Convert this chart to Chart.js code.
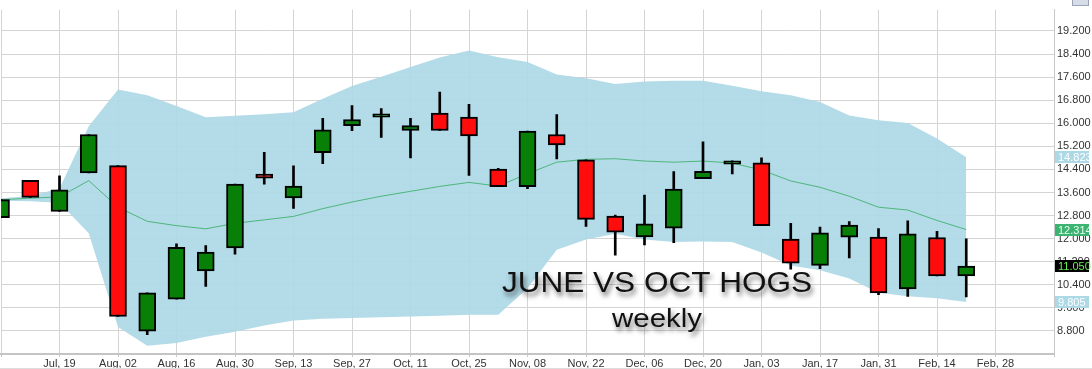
<!DOCTYPE html>
<html>
<head>
<meta charset="utf-8">
<script src="https://cdn.jsdelivr.net/npm/chart.js@4.4.1/dist/chart.umd.min.js"></script>
<style>
  html, body { margin: 0; padding: 0; background: #ffffff; }
  #wrap { position: relative; width: 1092px; height: 369px; }
  canvas { display: block; }
</style>
</head>
<body>
<div id="wrap"><canvas id="c" width="1092" height="369"></canvas></div>
<script>
// ---- Data (weekly candles, June vs Oct hogs spread) ----
const weeks = ['Jul 05','Jul 12','Jul 19','Jul 26','Aug 02','Aug 09','Aug 16','Aug 23','Aug 30',
  'Sep 06','Sep 13','Sep 20','Sep 27','Oct 04','Oct 11','Oct 18','Oct 25','Nov 01','Nov 08',
  'Nov 15','Nov 22','Nov 29','Dec 06','Dec 13','Dec 20','Dec 27','Jan 03','Jan 10','Jan 17',
  'Jan 24','Jan 31','Feb 07','Feb 14','Feb 21'];

const open  = [12.73,14.02,12.94,14.28,14.53,8.79,9.90,10.88,11.68,14.24,13.41,14.98,15.92,16.21,15.75,16.35,16.21,14.41,13.80,15.61,14.73,12.78,12.06,12.36,14.08,14.58,14.63,11.98,11.07,12.05,12.05,10.26,12.04,10.71];
const high  = [13.35,14.02,14.18,15.61,14.53,10.12,11.82,11.76,13.89,14.99,14.52,16.17,16.61,16.51,16.17,17.08,16.66,14.44,15.73,16.30,14.73,12.82,13.51,14.32,15.36,14.70,14.80,12.53,12.40,12.59,12.35,12.62,12.25,11.99];
const low   = [12.73,13.43,12.94,14.28,9.30,8.67,9.90,10.34,11.46,13.89,13.05,14.60,15.74,15.51,14.80,15.75,14.19,13.80,13.73,14.76,12.42,11.43,11.78,11.86,14.08,14.24,12.45,10.94,10.96,11.33,10.06,10.00,10.71,9.98];
const close = [13.35,13.43,13.69,15.61,9.30,10.12,11.70,11.53,13.89,14.10,13.82,15.77,16.13,16.33,15.92,15.75,15.56,13.80,15.73,15.25,12.67,12.22,12.51,13.72,14.33,14.70,12.45,11.15,12.20,12.47,10.12,12.17,10.71,11.05];

const bandUpper = [13.40,13.48,13.74,15.90,17.17,16.97,16.60,16.21,16.26,16.31,16.38,16.85,17.29,17.61,17.95,18.28,18.52,18.29,18.12,17.69,17.56,17.36,17.45,17.47,17.47,17.30,17.11,16.97,16.74,16.27,16.10,16.01,15.47,14.823];
const bandMiddle = [13.35,13.40,13.45,14.01,13.09,12.60,12.45,12.34,12.53,12.65,12.77,13.04,13.27,13.47,13.64,13.81,13.95,13.82,14.25,14.65,14.75,14.77,14.69,14.65,14.69,14.62,14.38,14.00,13.78,13.47,13.09,12.99,12.63,12.314];
const bandLower = [13.31,13.30,13.24,12.19,8.94,8.29,8.38,8.60,8.77,8.99,9.16,9.22,9.25,9.27,9.30,9.33,9.36,9.36,10.28,11.61,11.97,12.17,11.97,11.88,11.90,11.88,11.52,11.07,10.90,10.62,10.12,10.00,9.93,9.805];

const xTickWeeks  = [0,2,4,6,8,10,12,14,16,18,20,22,24,26,28,30,32,34,36];
const xTickLabels = ['','Jul, 19','Aug, 02','Aug, 16','Aug, 30','Sep, 13','Sep, 27','Oct, 11','Oct, 25',
  'Nov, 08','Nov, 22','Dec, 06','Dec, 20','Jan, 03','Jan, 17','Jan, 31','Feb, 14','Feb, 28',''];
const yTicks = [8.8,9.6,10.4,11.2,12.0,12.8,13.6,14.4,15.2,16.0,16.8,17.6,18.4,19.2];

const titleLines = ['JUNE VS OCT HOGS', 'weekly'];

// ---- Chart ----
const AXIS_FONT = '"Liberation Sans Narrow", "Arial Narrow", "Liberation Sans", Arial, sans-serif';
const last = weeks.length - 1;

const overlayPlugin = {
  id: 'overlay',
  afterDraw(chart) {
    const { ctx, chartArea, scales } = chart;
    const y = scales.y;
    const badges = [
      { value: bandUpper[last],  bg: '#add8e6', fg: '#ffffff' },
      { value: bandMiddle[last], bg: '#3cb371', fg: '#e8fff0' },
      { value: close[last],      bg: '#000000', fg: '#66ee55' },
      { value: bandLower[last],  bg: '#add8e6', fg: '#ffffff' }
    ];
    const bx = chartArea.right + 1;
    ctx.save();
    ctx.font = '11px ' + AXIS_FONT;
    ctx.textBaseline = 'middle';
    ctx.textAlign = 'left';
    badges.forEach(b => {
      const py = Math.round(y.getPixelForValue(b.value));
      ctx.fillStyle = b.bg;
      ctx.fillRect(bx, py - 6, 34, 12);
      ctx.fillStyle = b.fg;
      ctx.fillText(b.value.toFixed(3), bx + 3, py + 0.5);
    });
    ctx.restore();

    ctx.save();
    ctx.fillStyle = '#d6dce8';
    ctx.fillRect(1072, -6, 17, 12);
    ctx.strokeStyle = '#9aa4b8';
    ctx.strokeRect(1072.5, -5.5, 16, 11);
    ctx.restore();

    ctx.save();
    ctx.strokeStyle = '#dddddd';
    ctx.beginPath(); ctx.moveTo(0, 368.5); ctx.lineTo(1092, 368.5); ctx.stroke();
    ctx.restore();

    const drawScaled = (text, size, cx, baseY, targetW) => {
      ctx.save();
      ctx.font = size + 'px "Liberation Sans", Arial, sans-serif';
      const w = ctx.measureText(text).width;
      const sx = targetW / w;
      ctx.translate(cx, baseY);
      ctx.scale(sx, 1);
      ctx.textAlign = 'center';
      ctx.textBaseline = 'alphabetic';
      ctx.shadowColor = 'rgba(0,0,0,0.55)';
      ctx.shadowBlur = 5;
      ctx.shadowOffsetX = 2;
      ctx.shadowOffsetY = 4;
      ctx.fillStyle = '#111111';
      ctx.fillText(text, 0, 0);
      ctx.restore();
    };
    drawScaled(titleLines[0], 29, 657, 291.5, 310);
    drawScaled(titleLines[1], 25, 657, 326.5, 90);
  }
};

new Chart(document.getElementById('c'), {
  type: 'bar',
  data: {
    datasets: [
      {
        type: 'line', label: 'Upper band',
        data: bandUpper.map((v, i) => ({ x: i, y: v })),
        borderWidth: 0, pointRadius: 0, tension: 0,
        backgroundColor: 'rgba(173,216,230,0.93)', borderColor: 'rgba(0,0,0,0)',
        fill: '+1', order: 5
      },
      {
        type: 'line', label: 'Lower band',
        data: bandLower.map((v, i) => ({ x: i, y: v })),
        borderWidth: 0, pointRadius: 0, tension: 0,
        borderColor: 'rgba(0,0,0,0)', fill: false, order: 4
      },
      {
        type: 'line', label: 'Middle',
        data: bandMiddle.map((v, i) => ({ x: i, y: v })),
        borderWidth: 1, pointRadius: 0, tension: 0,
        borderColor: 'rgba(60,175,105,0.85)', fill: false, order: 3
      },
      {
        type: 'bar', label: 'Range',
        data: high.map((h, i) => ({ x: i, y: [low[i], h] })),
        backgroundColor: '#000000', barThickness: 2, grouped: false, order: 2
      },
      {
        type: 'bar', label: 'Body',
        data: open.map((o, i) => ({ x: i, y: [o, close[i]] })),
        backgroundColor: open.map((o, i) => close[i] >= o ? '#088008' : '#ff0d0d'),
        borderColor: '#000000', borderWidth: 2, borderSkipped: false,
        barThickness: 17, grouped: false, order: 1
      }
    ]
  },
  options: {
    responsive: false,
    animation: false,
    events: [],
    layout: { padding: { left: 1, top: 0, right: 0, bottom: 0 } },
    plugins: { legend: { display: false }, tooltip: { enabled: false }, title: { display: false } },
    scales: {
      x: {
        type: 'linear', min: 0, max: 36, offset: false,
        afterBuildTicks: s => { s.ticks = xTickWeeks.map(v => ({ value: v })); },
        afterFit: s => { s.height = 15; },
        grid: { offset: false, color: '#d4d4d4', lineWidth: 1, drawTicks: true, tickLength: 3, tickColor: '#c8c8c8' },
        border: { display: true, color: '#c4c4c4', width: 2 },
        ticks: {
          autoSkip: false, maxRotation: 0, minRotation: 0, padding: 0,
          color: '#333333', font: { family: AXIS_FONT, size: 11 },
          callback: (v, i) => xTickLabels[i]
        }
      },
      y: {
        position: 'right', min: 8.0, max: 19.94,
        afterBuildTicks: s => { s.ticks = yTicks.map(v => ({ value: v })); },
        afterFit: s => { s.width = 38; },
        grid: { offset: false, color: '#d4d4d4', lineWidth: 1, drawTicks: false },
        border: { display: true, color: '#c8c8c8', width: 1 },
        ticks: {
          padding: 3, color: '#333333', font: { family: AXIS_FONT, size: 11 },
          callback: v => Number(v).toFixed(3)
        }
      }
    }
  },
  plugins: [overlayPlugin]
});
</script>
</body>
</html>
